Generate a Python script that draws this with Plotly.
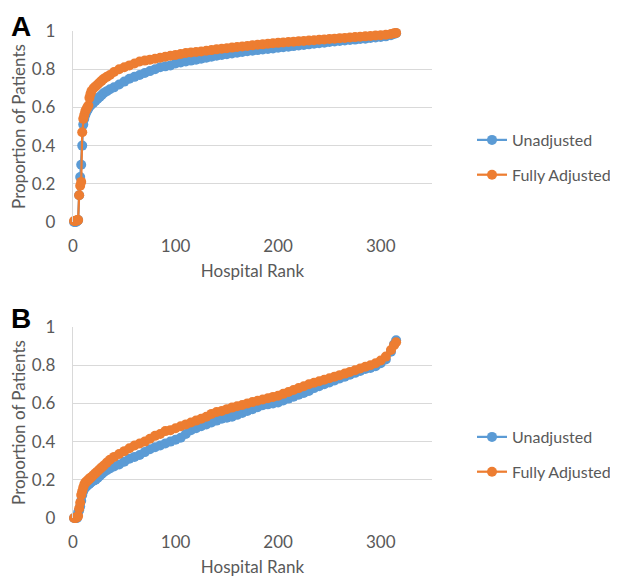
import plotly.graph_objects as go

RANKS = [1, 2, 3, 4, 5, 6, 7, 8, 9, 10, 11, 12, 13, 14, 15, 16, 17, 18,
         20, 22, 24, 26, 28, 30, 33, 36, 40,
         45, 50, 55, 60, 65, 70, 75, 80, 85, 90, 95, 100,
         105, 110, 115, 120, 125, 130, 135, 140, 145, 150,
         155, 160, 165, 170, 175, 180, 185, 190, 195, 200,
         205, 210, 215, 220, 225, 230, 235, 240, 245, 250,
         255, 260, 265, 270, 275, 280, 285, 290, 295, 300,
         305, 310, 313, 315]

A_UNADJ = [0, 0, 0, 0.005, 0.01, 0.14, 0.235, 0.30, 0.40, 0.51, 0.54, 0.56, 0.575, 0.585, 0.595, 0.605, 0.61, 0.615,
           0.625, 0.635, 0.645, 0.655, 0.665, 0.675, 0.685, 0.695, 0.705,
           0.72, 0.735, 0.75, 0.76, 0.77, 0.78, 0.79, 0.80, 0.81, 0.815, 0.82, 0.83,
           0.835, 0.84, 0.845, 0.85, 0.855, 0.86, 0.865, 0.87, 0.874, 0.878,
           0.882, 0.886, 0.89, 0.894, 0.897, 0.90, 0.903, 0.906, 0.909, 0.912,
           0.915, 0.918, 0.921, 0.924, 0.927, 0.93, 0.933, 0.936, 0.939, 0.942,
           0.945, 0.948, 0.95, 0.953, 0.955, 0.958, 0.96, 0.963, 0.966, 0.969,
           0.972, 0.978, 0.984, 0.988]

A_ADJ = [0.005, 0.005, 0.005, 0.01, 0.01, 0.14, 0.19, 0.21, 0.47, 0.54, 0.56, 0.58, 0.59, 0.60, 0.61, 0.65, 0.67, 0.685,
         0.70, 0.71, 0.72, 0.73, 0.74, 0.75, 0.76, 0.77, 0.785,
         0.80, 0.81, 0.82, 0.83, 0.84, 0.845, 0.85, 0.855, 0.86, 0.865, 0.87, 0.875,
         0.88, 0.885, 0.888, 0.89, 0.893, 0.897, 0.90, 0.904, 0.907, 0.91,
         0.913, 0.916, 0.919, 0.922, 0.925, 0.928, 0.93, 0.933, 0.936, 0.938,
         0.94, 0.942, 0.944, 0.946, 0.948, 0.95, 0.952, 0.954, 0.956, 0.958,
         0.96, 0.962, 0.964, 0.966, 0.968, 0.97, 0.972, 0.974, 0.976, 0.978,
         0.98, 0.984, 0.988, 0.99]

B_UNADJ = [0, 0, 0, 0, 0.03, 0.04, 0.06, 0.09, 0.12, 0.14, 0.155, 0.16, 0.165, 0.17, 0.175, 0.18, 0.185, 0.19,
           0.195, 0.20, 0.21, 0.22, 0.23, 0.24, 0.25, 0.26, 0.27,
           0.28, 0.295, 0.31, 0.32, 0.33, 0.345, 0.36, 0.37, 0.38, 0.39, 0.40, 0.41,
           0.42, 0.44, 0.46, 0.47, 0.48, 0.49, 0.50, 0.51, 0.52, 0.525,
           0.53, 0.54, 0.55, 0.56, 0.57, 0.58, 0.59, 0.595, 0.60, 0.605,
           0.615, 0.625, 0.635, 0.645, 0.655, 0.665, 0.68, 0.69, 0.70, 0.71,
           0.72, 0.73, 0.74, 0.75, 0.76, 0.77, 0.78, 0.785, 0.795, 0.81,
           0.83, 0.87, 0.91, 0.93]

B_ADJ = [0, 0, 0, 0.005, 0.01, 0.05, 0.08, 0.12, 0.14, 0.16, 0.175, 0.185, 0.19, 0.195, 0.20, 0.205, 0.21, 0.215,
         0.225, 0.235, 0.245, 0.255, 0.265, 0.275, 0.29, 0.305, 0.32,
         0.335, 0.35, 0.365, 0.38, 0.39, 0.40, 0.415, 0.43, 0.44, 0.455, 0.46, 0.47,
         0.48, 0.49, 0.50, 0.51, 0.52, 0.53, 0.545, 0.555, 0.56, 0.57,
         0.578, 0.585, 0.592, 0.60, 0.607, 0.614, 0.62, 0.627, 0.634, 0.64,
         0.65, 0.66, 0.67, 0.68, 0.69, 0.70, 0.708, 0.716, 0.724, 0.732,
         0.74, 0.748, 0.756, 0.765, 0.774, 0.783, 0.792, 0.80, 0.81, 0.825,
         0.845, 0.88, 0.905, 0.92]

SERIES_NAMES = ["Unadjusted", "Fully Adjusted"]
X_TICKS = [0, 100, 200, 300]
Y_TICKS = [0, 0.2, 0.4, 0.6, 0.8, 1]
Y_TICK_TEXT = ["0", "0.2", "0.4", "0.6", "0.8", "1"]

BLUE = "#5B9BD5"
ORANGE = "#ED7D31"
GRID = "#D9D9D9"
TXT = "#595959"
FONT = "Lato"

# the page body has an 8px margin; size the figure so it fits the 618x580 window
OFF = 8
W, H = 618 - OFF, 580 - OFF


def px(x):
    return (x - OFF) / W


def py(y):
    return 1 - (y - OFF) / H


fig = go.Figure()

panels = [
    ("x", "y", "legend", A_UNADJ, A_ADJ),
    ("x2", "y2", "legend2", B_UNADJ, B_ADJ),
]
for xa, ya, lg, un, adj in panels:
    for name, vals, col, grp in [(SERIES_NAMES[0], un, BLUE, "g1"), (SERIES_NAMES[1], adj, ORANGE, "g2")]:
        fig.add_trace(go.Scatter(
            x=RANKS, y=vals, name=name, mode="lines+markers",
            xaxis=xa, yaxis=ya, legend=lg, legendgroup=grp + xa,
            line=dict(color=col, width=2.25),
            marker=dict(color=col, size=10),
            cliponaxis=False, hoverinfo="skip",
        ))

xdom = [px(73), px(432)]
ydomA = [py(222), py(31)]
ydomB = [py(518), py(327)]


def xax(dom, anchor):
    return dict(domain=dom, anchor=anchor, range=[0, 350], tickvals=X_TICKS,
                showgrid=False, zeroline=False, showline=False, ticks="",
                automargin=False,
                tickfont=dict(family=FONT, size=17, color=TXT),
                ticklabelstandoff=12,
                title=dict(text="Hospital Rank", font=dict(family=FONT, size=17, color=TXT), standoff=10))


def yax(dom, anchor):
    return dict(domain=dom, anchor=anchor, range=[0, 1], tickvals=Y_TICKS, ticktext=Y_TICK_TEXT,
                showgrid=True, gridcolor=GRID, gridwidth=1.3, zeroline=False,
                showline=True, linecolor=GRID, linewidth=1.3, ticks="",
                automargin=False,
                tickfont=dict(family=FONT, size=17, color=TXT),
                ticklabelstandoff=13,
                title=dict(text="Proportion of Patients", font=dict(family=FONT, size=17, color=TXT), standoff=3))


leg_common = dict(x=px(472), xanchor="left", yanchor="top", bgcolor="rgba(0,0,0,0)",
                  font=dict(family=FONT, size=16, color=TXT), tracegroupgap=11, itemwidth=30)

fig.update_layout(
    width=W, height=H,
    margin=dict(l=0, r=0, t=0, b=0),
    paper_bgcolor="white", plot_bgcolor="white",
    showlegend=True,
    xaxis=xax(xdom, "y"),
    yaxis=yax(ydomA, "x"),
    xaxis2=xax(xdom, "y2"),
    yaxis2=yax(ydomB, "x2"),
    legend=dict(y=py(123), **leg_common),
    legend2=dict(y=py(420), **leg_common),
    annotations=[
        dict(text="<b>A</b>", x=px(9), y=py(9), xref="paper", yref="paper", xanchor="left", yanchor="top",
             showarrow=False, font=dict(family="Liberation Sans", size=28, color="black")),
        dict(text="<b>B</b>", x=px(9), y=py(301), xref="paper", yref="paper", xanchor="left", yanchor="top",
             showarrow=False, font=dict(family="Liberation Sans", size=28, color="black")),
    ],
)

fig.write_html("out.html")
